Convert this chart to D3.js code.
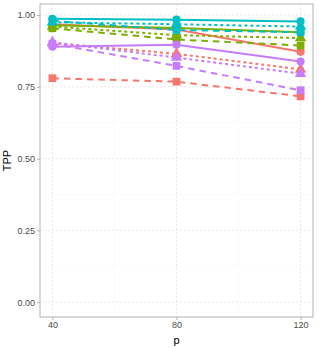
<!DOCTYPE html>
<html>
<head>
<meta charset="utf-8">
<script src="https://cdn.jsdelivr.net/npm/d3@7"></script>
<style>
  body { margin: 0; background: #fff; }
  text { font-family: "Liberation Sans", Arial, sans-serif; }
</style>
</head>
<body>
<div id="chart"></div>
<script>
// x values and tick labels
var pValues = [40, 80, 120];
var yTicks = [0, 0.25, 0.5, 0.75, 1];

// one small array per series (colour group x linetype)
var redSolid = [0.968, 0.950, 0.872];
var redDashed = [0.780, 0.768, 0.717];
var redDotted = [0.903, 0.865, 0.811];

var greenSolid = [0.965, 0.955, 0.940];
var greenDashed = [0.954, 0.915, 0.894];
var greenDotted = [0.960, 0.930, 0.920];

var cyanSolid = [0.987, 0.984, 0.978];
var cyanDashed = [0.980, 0.948, 0.940];
var cyanDotted = [0.975, 0.968, 0.960];

var purpleSolid = [0.890, 0.897, 0.838];
var purpleDashed = [0.900, 0.823, 0.738];
var purpleDotted = [0.905, 0.852, 0.796];

var colours = {red: "#F8766D", green: "#7CAE00", cyan: "#00BFC4", purple: "#C77CFF"};
var dashes = {solid: null, dashed: "6.5,5", dotted: "3,3"};
var shapes = {solid: d3.symbolCircle, dashed: d3.symbolSquare, dotted: d3.symbolTriangle};
var shapeSize = {solid: 52, dashed: 60, dotted: 56};

var series = [
    {col: "red", lt: "solid", v: redSolid},
    {col: "red", lt: "dashed", v: redDashed},
    {col: "red", lt: "dotted", v: redDotted},
    {col: "green", lt: "solid", v: greenSolid},
    {col: "green", lt: "dashed", v: greenDashed},
    {col: "green", lt: "dotted", v: greenDotted},
    {col: "cyan", lt: "solid", v: cyanSolid},
    {col: "cyan", lt: "dashed", v: cyanDashed},
    {col: "cyan", lt: "dotted", v: cyanDotted},
    {col: "purple", lt: "solid", v: purpleSolid},
    {col: "purple", lt: "dashed", v: purpleDashed},
    {col: "purple", lt: "dotted", v: purpleDotted}
];

var W = 319, H = 348;
var margin = {top: 4, right: 6, bottom: 31, left: 40};
var width = W - margin.left - margin.right;
var height = H - margin.top - margin.bottom;

var svg = d3.select("#chart").append("svg").attr("width", W).attr("height", H)
    .append("g").attr("transform", "translate(" + margin.left + "," + margin.top + ")");

var x = d3.scaleLinear().domain([36, 124]).range([0, width]);
var y = d3.scaleLinear().domain([-0.0516, 1.0386]).range([height, 0]);

// grid lines
var xMinor = [60, 100];
var yMinor = [0.125, 0.375, 0.625, 0.875];
svg.append("g").selectAll("line").data(yMinor).enter().append("line")
    .attr("x1", 0).attr("x2", width).attr("y1", d => y(d)).attr("y2", d => y(d))
    .attr("stroke", "#F0F0F0").attr("stroke-width", 0.6).attr("stroke-dasharray", "2,2");
svg.append("g").selectAll("line").data(xMinor).enter().append("line")
    .attr("y1", 0).attr("y2", height).attr("x1", d => x(d)).attr("x2", d => x(d))
    .attr("stroke", "#F0F0F0").attr("stroke-width", 0.6).attr("stroke-dasharray", "2,2");
svg.append("g").selectAll("line").data(yTicks).enter().append("line")
    .attr("x1", 0).attr("x2", width).attr("y1", d => y(d)).attr("y2", d => y(d))
    .attr("stroke", "#E2E2E2").attr("stroke-width", 0.8).attr("stroke-dasharray", "2,2");
svg.append("g").selectAll("line").data(pValues).enter().append("line")
    .attr("y1", 0).attr("y2", height).attr("x1", d => x(d)).attr("x2", d => x(d))
    .attr("stroke", "#E2E2E2").attr("stroke-width", 0.8).attr("stroke-dasharray", "2,2");

// lines
var line = d3.line().x((d, i) => x(pValues[i])).y(d => y(d));
svg.append("g").selectAll("path").data(series).enter().append("path")
    .attr("d", d => line(d.v))
    .attr("fill", "none")
    .attr("stroke", d => colours[d.col])
    .attr("stroke-width", 2)
    .attr("stroke-dasharray", d => dashes[d.lt]);

// points
series.forEach(function(s) {
    svg.append("g").selectAll("path").data(s.v).enter().append("path")
        .attr("transform", (d, i) => "translate(" + x(pValues[i]) + "," + y(d) + ")")
        .attr("d", d3.symbol().type(shapes[s.lt]).size(shapeSize[s.lt]))
        .attr("fill", colours[s.col]);
});

// panel border
svg.append("rect").attr("width", width).attr("height", height)
    .attr("fill", "none").attr("stroke", "#B3B3B3").attr("stroke-width", 1);

// axes
var yAxis = svg.append("g").call(d3.axisLeft(y).tickValues(yTicks).tickFormat(d3.format(".2f")).tickSize(3).tickPadding(2));
var xAxis = svg.append("g").attr("transform", "translate(0," + height + ")")
    .call(d3.axisBottom(x).tickValues(pValues).tickSize(3).tickPadding(2));
[xAxis, yAxis].forEach(function(a) {
    a.select(".domain").remove();
    a.selectAll("line").attr("stroke", "#B3B3B3");
    a.selectAll("text").attr("fill", "#4D4D4D").style("font-size", "9px");
});

// axis titles
svg.append("text").attr("x", width / 2).attr("y", height + 27).attr("text-anchor", "middle")
    .style("font-size", "11px").attr("fill", "#000").text("p");
svg.append("text").attr("transform", "rotate(-90)").attr("x", -height / 2).attr("y", -29)
    .attr("text-anchor", "middle").style("font-size", "11px").attr("fill", "#000").text("TPP");
</script>
</body>
</html>
